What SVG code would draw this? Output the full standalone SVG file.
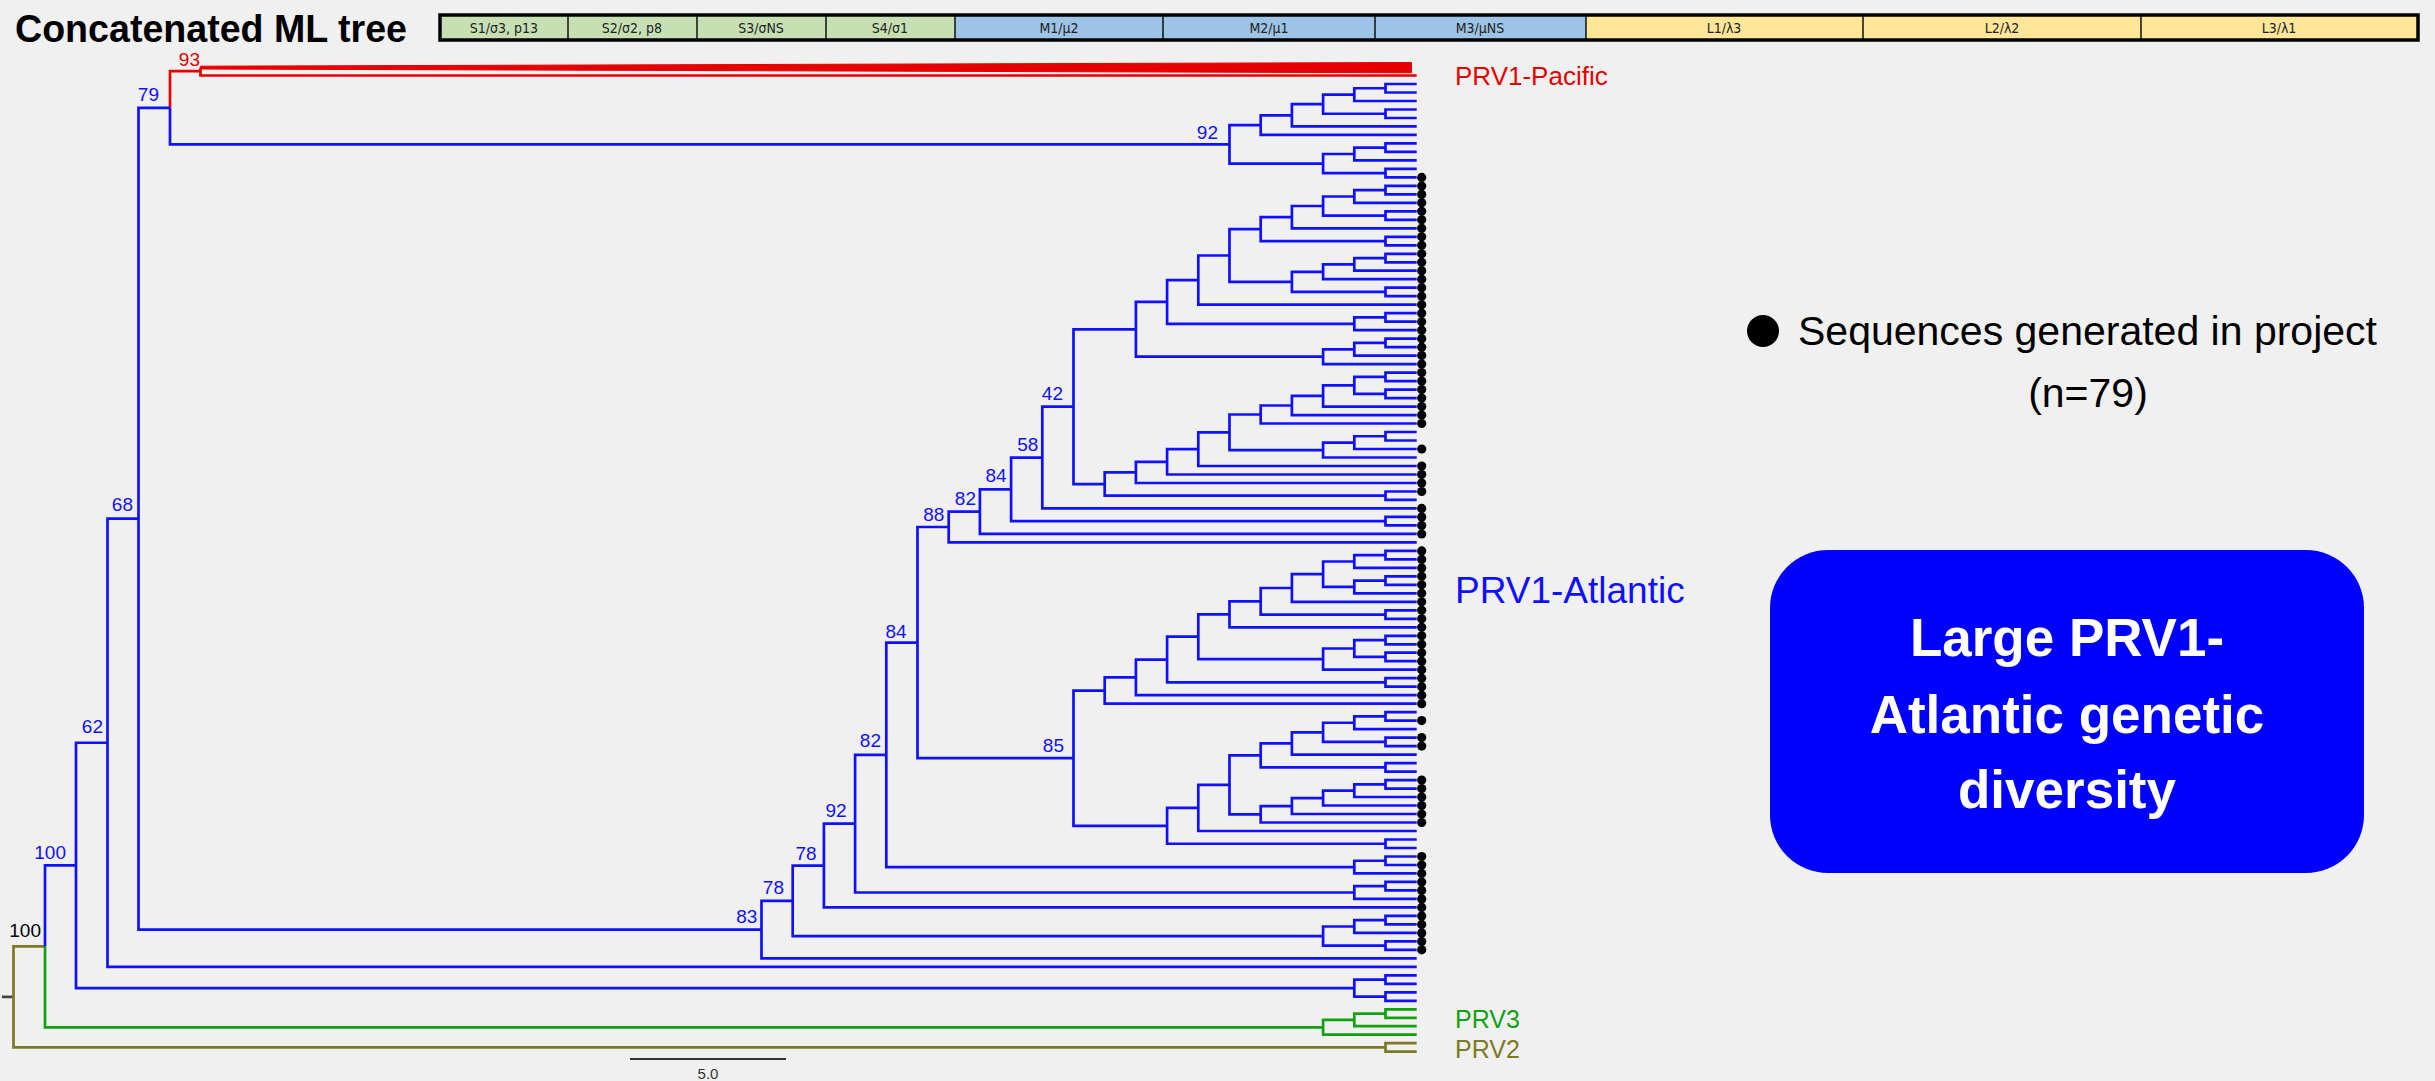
<svg xmlns="http://www.w3.org/2000/svg" width="2435" height="1081" viewBox="0 0 2435 1081">
<style>
.b{fill:none;stroke:#1010ff;stroke-width:2.7}
.r{fill:none;stroke:#e60000;stroke-width:2.7}
.g{fill:none;stroke:#12a012;stroke-width:2.7}
.o{fill:none;stroke:#7d7a22;stroke-width:2.7}
.sup{font-family:"Liberation Sans",Arial,sans-serif;font-size:19px;fill:#1010ff;text-anchor:end}
.seg{font-family:"DejaVu Sans Condensed","Liberation Sans",sans-serif;font-size:14px;fill:#222;text-anchor:middle}
.dot{fill:#000}
</style>
<rect x="0" y="0" width="2435" height="1081" fill="#f0f0f0"/>

<g id="title">
<text x="15" y="42" font-family="Liberation Sans,Arial,sans-serif" font-weight="bold" font-size="38" fill="#000" textLength="392" lengthAdjust="spacingAndGlyphs">Concatenated ML tree</text>
</g>

<g id="segment-bar">
<rect x="440" y="15" width="515" height="25" fill="#c6e0b4"/>
<rect x="955" y="15" width="631" height="25" fill="#9dc3e6"/>
<rect x="1586" y="15" width="832" height="25" fill="#ffe699"/>
<g stroke="#111" stroke-width="1.5">
<line x1="568" y1="15" x2="568" y2="40"/><line x1="697" y1="15" x2="697" y2="40"/><line x1="826" y1="15" x2="826" y2="40"/>
<line x1="955" y1="15" x2="955" y2="40"/><line x1="1163" y1="15" x2="1163" y2="40"/><line x1="1375" y1="15" x2="1375" y2="40"/>
<line x1="1586" y1="15" x2="1586" y2="40"/><line x1="1863" y1="15" x2="1863" y2="40"/><line x1="2141" y1="15" x2="2141" y2="40"/>
</g>
<rect x="440" y="15" width="1978" height="25" fill="none" stroke="#000" stroke-width="3.5"/>
<text class="seg" x="504" y="32.5">S1/σ3, p13</text>
<text class="seg" x="632" y="32.5">S2/σ2, p8</text>
<text class="seg" x="761" y="32.5">S3/σNS</text>
<text class="seg" x="890" y="32.5">S4/σ1</text>
<text class="seg" x="1059" y="32.5">M1/μ2</text>
<text class="seg" x="1269" y="32.5">M2/μ1</text>
<text class="seg" x="1480" y="32.5">M3/μNS</text>
<text class="seg" x="1724" y="32.5">L1/λ3</text>
<text class="seg" x="2002" y="32.5">L2/λ2</text>
<text class="seg" x="2279" y="32.5">L3/λ1</text>
</g>

<g id="connectors">
<path d="M2,996.9H13.5" fill="none" stroke="#444" stroke-width="2.7"/>
<g class="o">
<path d="M45,946.35H13.5V1047.45H1385.5"/>
<path d="M1416.7,1043.2H1385.5V1051.7H1416.7"/>
</g>
<g class="g">
<path d="M45,946.35V1027.3H1323.1"/>
<path d="M1416.7,1009.3H1385.5V1017.8H1416.7"/>
<path d="M1385.5,1013.55H1354.3V1026.2H1416.7"/>
<path d="M1354.3,1019.9H1323.1V1034.7H1416.7"/>
</g>
<g class="r">
<path d="M200.5,71.2H170V107.8"/>
<path d="M200.5,67.5V75.5H1416.7"/>
</g>
<polygon points="200.5,66.2 1411.5,62.5 1411.5,72.8 200.5,69" fill="#e60000" stroke="#e60000" stroke-width="1"/>
<g class="b">
<path d="M76,865.4H45V946.35"/>
<path d="M170,107.8V144.35H1229.5"/>
<path d="M1416.7,84H1385.5V92.5H1416.7"/>
<path d="M1385.5,88.25H1354.3V101H1416.7"/>
<path d="M1416.7,109.5H1385.5V118H1416.7"/>
<path d="M1354.3,94.6H1323.1V113.75H1385.5"/>
<path d="M1323.1,104.2H1291.9V126.4H1416.7"/>
<path d="M1291.9,115.3H1260.7V134.9H1416.7"/>
<path d="M1416.7,143.4H1385.5V151.9H1416.7"/>
<path d="M1385.5,147.65H1354.3V160.4H1416.7"/>
<path d="M1416.7,168.9H1385.5V177.4H1416.7"/>
<path d="M1354.3,154H1323.1V173.15H1385.5"/>
<path d="M1260.7,125.1H1229.5V163.6H1323.1"/>
<path d="M1416.7,185.9H1385.5V194.4H1416.7"/>
<path d="M1385.5,190.15H1354.3V202.8H1416.7"/>
<path d="M1416.7,211.3H1385.5V219.8H1416.7"/>
<path d="M1354.3,196.5H1323.1V215.55H1385.5"/>
<path d="M1323.1,206H1291.9V228.3H1416.7"/>
<path d="M1416.7,236.8H1385.5V245.3H1416.7"/>
<path d="M1291.9,217.15H1260.7V241.05H1385.5"/>
<path d="M1416.7,253.8H1385.5V262.3H1416.7"/>
<path d="M1385.5,258.05H1354.3V270.7H1416.7"/>
<path d="M1354.3,264.4H1323.1V279.2H1416.7"/>
<path d="M1416.7,287.7H1385.5V296.2H1416.7"/>
<path d="M1323.1,271.8H1291.9V291.95H1385.5"/>
<path d="M1260.7,229.1H1229.5V281.9H1291.9"/>
<path d="M1229.5,255.5H1198.3V304.7H1416.7"/>
<path d="M1416.7,313.2H1385.5V321.7H1416.7"/>
<path d="M1385.5,317.45H1354.3V330.2H1416.7"/>
<path d="M1198.3,280.1H1167.1V323.8H1354.3"/>
<path d="M1416.7,338.7H1385.5V347.2H1416.7"/>
<path d="M1385.5,342.95H1354.3V355.6H1416.7"/>
<path d="M1354.3,349.3H1323.1V364.1H1416.7"/>
<path d="M1167.1,301.95H1135.9V356.7H1323.1"/>
<path d="M1416.7,372.6H1385.5V381.1H1416.7"/>
<path d="M1416.7,389.6H1385.5V398.1H1416.7"/>
<path d="M1385.5,376.85H1354.3V393.85H1385.5"/>
<path d="M1354.3,385.35H1323.1V406.6H1416.7"/>
<path d="M1323.1,395.95H1291.9V415.1H1416.7"/>
<path d="M1291.9,405.5H1260.7V423.5H1416.7"/>
<path d="M1416.7,432H1385.5V440.5H1416.7"/>
<path d="M1385.5,436.25H1354.3V449H1416.7"/>
<path d="M1354.3,442.6H1323.1V457.5H1416.7"/>
<path d="M1260.7,414.5H1229.5V450.05H1323.1"/>
<path d="M1229.5,432.3H1198.3V466H1416.7"/>
<path d="M1198.3,449.15H1167.1V474.5H1416.7"/>
<path d="M1167.1,461.8H1135.9V483H1416.7"/>
<path d="M1416.7,491.5H1385.5V499.9H1416.7"/>
<path d="M1135.9,472.4H1104.7V495.7H1385.5"/>
<path d="M1135.9,329.3H1073.5V484.05H1104.7"/>
<path d="M1073.5,406.7H1042.3V508.4H1416.7"/>
<path d="M1416.7,516.9H1385.5V525.4H1416.7"/>
<path d="M1042.3,457.55H1011.1V521.15H1385.5"/>
<path d="M1011.1,489.35H979.9V533.9H1416.7"/>
<path d="M979.9,511.6H948.7V542.4H1416.7"/>
<path d="M1416.7,550.9H1385.5V559.4H1416.7"/>
<path d="M1385.5,555.15H1354.3V567.9H1416.7"/>
<path d="M1416.7,576.3H1385.5V584.8H1416.7"/>
<path d="M1385.5,580.55H1354.3V593.3H1416.7"/>
<path d="M1354.3,561.5H1323.1V586.9H1354.3"/>
<path d="M1323.1,574.2H1291.9V601.8H1416.7"/>
<path d="M1416.7,610.3H1385.5V618.8H1416.7"/>
<path d="M1291.9,588H1260.7V614.55H1385.5"/>
<path d="M1260.7,601.3H1229.5V627.3H1416.7"/>
<path d="M1416.7,635.8H1385.5V644.3H1416.7"/>
<path d="M1416.7,652.7H1385.5V661.2H1416.7"/>
<path d="M1385.5,640.05H1354.3V656.95H1385.5"/>
<path d="M1354.3,648.5H1323.1V669.7H1416.7"/>
<path d="M1229.5,614.3H1198.3V659.1H1323.1"/>
<path d="M1416.7,678.2H1385.5V686.7H1416.7"/>
<path d="M1198.3,636.7H1167.1V682.45H1385.5"/>
<path d="M1167.1,659.6H1135.9V695.2H1416.7"/>
<path d="M1135.9,677.4H1104.7V703.7H1416.7"/>
<path d="M1416.7,712.2H1385.5V720.6H1416.7"/>
<path d="M1385.5,716.4H1354.3V729.1H1416.7"/>
<path d="M1416.7,737.6H1385.5V746.1H1416.7"/>
<path d="M1354.3,722.75H1323.1V741.85H1385.5"/>
<path d="M1323.1,732.3H1291.9V754.6H1416.7"/>
<path d="M1416.7,763.1H1385.5V771.6H1416.7"/>
<path d="M1291.9,743.45H1260.7V767.35H1385.5"/>
<path d="M1416.7,780.1H1385.5V788.6H1416.7"/>
<path d="M1385.5,784.35H1354.3V797H1416.7"/>
<path d="M1354.3,790.7H1323.1V805.5H1416.7"/>
<path d="M1323.1,798.1H1291.9V814H1416.7"/>
<path d="M1291.9,806.05H1260.7V822.5H1416.7"/>
<path d="M1260.7,755.4H1229.5V814.3H1260.7"/>
<path d="M1229.5,784.85H1198.3V831H1416.7"/>
<path d="M1416.7,839.5H1385.5V848H1416.7"/>
<path d="M1198.3,807.9H1167.1V843.75H1385.5"/>
<path d="M1104.7,690.55H1073.5V825.8H1167.1"/>
<path d="M948.7,527H917.5V758.2H1073.5"/>
<path d="M1416.7,856.5H1385.5V865H1416.7"/>
<path d="M1385.5,860.75H1354.3V873.4H1416.7"/>
<path d="M917.5,642.6H886.3V867.1H1354.3"/>
<path d="M1416.7,881.9H1385.5V890.4H1416.7"/>
<path d="M1385.5,886.15H1354.3V898.9H1416.7"/>
<path d="M886.3,754.85H855.1V892.5H1354.3"/>
<path d="M855.1,823.7H823.9V907.4H1416.7"/>
<path d="M1416.7,915.9H1385.5V924.4H1416.7"/>
<path d="M1385.5,920.15H1354.3V932.9H1416.7"/>
<path d="M1416.7,941.4H1385.5V949.8H1416.7"/>
<path d="M1354.3,926.5H1323.1V945.6H1385.5"/>
<path d="M823.9,865.55H792.7V936.05H1323.1"/>
<path d="M792.7,900.8H761.5V958.3H1416.7"/>
<path d="M170,107.8H138.5V929.55H761.5"/>
<path d="M138.5,518.7H107.5V966.8H1416.7"/>
<path d="M1416.7,975.3H1385.5V983.8H1416.7"/>
<path d="M1416.7,992.3H1385.5V1000.8H1416.7"/>
<path d="M1385.5,979.55H1354.3V996.55H1385.5"/>
<path d="M107.5,742.75H76V988.05H1354.3"/>
</g>
</g>

<g id="project-dots" class="dot">
<circle cx="1421.7" cy="177.4" r="4.6"/><circle cx="1421.7" cy="185.9" r="4.6"/><circle cx="1421.7" cy="194.4" r="4.6"/><circle cx="1421.7" cy="202.8" r="4.6"/><circle cx="1421.7" cy="211.3" r="4.6"/><circle cx="1421.7" cy="219.8" r="4.6"/><circle cx="1421.7" cy="228.3" r="4.6"/><circle cx="1421.7" cy="236.8" r="4.6"/><circle cx="1421.7" cy="245.3" r="4.6"/><circle cx="1421.7" cy="253.8" r="4.6"/>
<circle cx="1421.7" cy="262.3" r="4.6"/><circle cx="1421.7" cy="270.7" r="4.6"/><circle cx="1421.7" cy="279.2" r="4.6"/><circle cx="1421.7" cy="287.7" r="4.6"/><circle cx="1421.7" cy="296.2" r="4.6"/><circle cx="1421.7" cy="304.7" r="4.6"/><circle cx="1421.7" cy="313.2" r="4.6"/><circle cx="1421.7" cy="321.7" r="4.6"/><circle cx="1421.7" cy="330.2" r="4.6"/><circle cx="1421.7" cy="338.7" r="4.6"/>
<circle cx="1421.7" cy="347.2" r="4.6"/><circle cx="1421.7" cy="355.6" r="4.6"/><circle cx="1421.7" cy="364.1" r="4.6"/><circle cx="1421.7" cy="372.6" r="4.6"/><circle cx="1421.7" cy="381.1" r="4.6"/><circle cx="1421.7" cy="389.6" r="4.6"/><circle cx="1421.7" cy="398.1" r="4.6"/><circle cx="1421.7" cy="406.6" r="4.6"/><circle cx="1421.7" cy="415.1" r="4.6"/><circle cx="1421.7" cy="423.5" r="4.6"/>
<circle cx="1421.7" cy="449" r="4.6"/>
<circle cx="1421.7" cy="466" r="4.6"/><circle cx="1421.7" cy="474.5" r="4.6"/><circle cx="1421.7" cy="483" r="4.6"/><circle cx="1421.7" cy="491.5" r="4.6"/>
<circle cx="1421.7" cy="508.4" r="4.6"/><circle cx="1421.7" cy="516.9" r="4.6"/><circle cx="1421.7" cy="525.4" r="4.6"/><circle cx="1421.7" cy="533.9" r="4.6"/>
<circle cx="1421.7" cy="550.9" r="4.6"/><circle cx="1421.7" cy="559.4" r="4.6"/><circle cx="1421.7" cy="567.9" r="4.6"/><circle cx="1421.7" cy="576.3" r="4.6"/><circle cx="1421.7" cy="584.8" r="4.6"/><circle cx="1421.7" cy="593.3" r="4.6"/><circle cx="1421.7" cy="601.8" r="4.6"/><circle cx="1421.7" cy="610.3" r="4.6"/><circle cx="1421.7" cy="618.8" r="4.6"/><circle cx="1421.7" cy="627.3" r="4.6"/>
<circle cx="1421.7" cy="635.8" r="4.6"/><circle cx="1421.7" cy="644.3" r="4.6"/><circle cx="1421.7" cy="652.7" r="4.6"/><circle cx="1421.7" cy="661.2" r="4.6"/><circle cx="1421.7" cy="669.7" r="4.6"/><circle cx="1421.7" cy="678.2" r="4.6"/><circle cx="1421.7" cy="686.7" r="4.6"/><circle cx="1421.7" cy="695.2" r="4.6"/><circle cx="1421.7" cy="703.7" r="4.6"/>
<circle cx="1421.7" cy="720.6" r="4.6"/>
<circle cx="1421.7" cy="737.6" r="4.6"/><circle cx="1421.7" cy="746.1" r="4.6"/>
<circle cx="1421.7" cy="780.1" r="4.6"/><circle cx="1421.7" cy="788.6" r="4.6"/><circle cx="1421.7" cy="797" r="4.6"/><circle cx="1421.7" cy="805.5" r="4.6"/><circle cx="1421.7" cy="814" r="4.6"/><circle cx="1421.7" cy="822.5" r="4.6"/>
<circle cx="1421.7" cy="856.5" r="4.6"/><circle cx="1421.7" cy="865" r="4.6"/><circle cx="1421.7" cy="873.4" r="4.6"/><circle cx="1421.7" cy="881.9" r="4.6"/><circle cx="1421.7" cy="890.4" r="4.6"/><circle cx="1421.7" cy="898.9" r="4.6"/><circle cx="1421.7" cy="907.4" r="4.6"/><circle cx="1421.7" cy="915.9" r="4.6"/><circle cx="1421.7" cy="924.4" r="4.6"/><circle cx="1421.7" cy="932.9" r="4.6"/><circle cx="1421.7" cy="941.4" r="4.6"/><circle cx="1421.7" cy="949.8" r="4.6"/>
</g>

<g id="support-values">
<text class="sup" x="200" y="66" style="fill:#e60000">93</text>
<text class="sup" x="159" y="101">79</text>
<text class="sup" x="1218" y="138.5">92</text>
<text class="sup" x="133" y="511">68</text>
<text class="sup" x="103" y="733">62</text>
<text class="sup" x="66" y="859">100</text>
<text class="sup" x="41" y="937" style="fill:#000">100</text>
<text class="sup" x="1063" y="399.7">42</text>
<text class="sup" x="1038.3" y="450.5">58</text>
<text class="sup" x="1006.7" y="482.3">84</text>
<text class="sup" x="976" y="505">82</text>
<text class="sup" x="944.3" y="521">88</text>
<text class="sup" x="906.7" y="638">84</text>
<text class="sup" x="1064" y="751.5">85</text>
<text class="sup" x="881" y="747">82</text>
<text class="sup" x="846.7" y="817">92</text>
<text class="sup" x="816.7" y="860">78</text>
<text class="sup" x="784" y="894">78</text>
<text class="sup" x="757.3" y="922.5">83</text>
</g>

<g id="clade-labels" font-family="Liberation Sans,Arial,sans-serif">
<text x="1455" y="85" font-size="26" fill="#e60000">PRV1-Pacific</text>
<text x="1455" y="603" font-size="37" fill="#1010ff">PRV1-Atlantic</text>
<text x="1455" y="1028" font-size="25" fill="#12a012">PRV3</text>
<text x="1455" y="1058" font-size="25" fill="#7d7a22">PRV2</text>
</g>

<g id="scale-bar">
<line x1="630" y1="1059" x2="786" y2="1059" stroke="#333" stroke-width="2"/>
<text x="708" y="1079" font-family="Liberation Sans,Arial,sans-serif" font-size="15" fill="#333" text-anchor="middle">5.0</text>
</g>

<g id="legend" font-family="Liberation Sans,Arial,sans-serif" fill="#000">
<circle cx="1763" cy="331" r="16"/>
<text x="1798" y="345" font-size="41">Sequences generated in project</text>
<text x="2088" y="407" font-size="41" text-anchor="middle">(n=79)</text>
</g>

<g id="diversity-box">
<rect x="1770" y="550" width="594" height="323" rx="58" ry="58" fill="#0000ff"/>
<g font-family="Liberation Sans,Arial,sans-serif" font-weight="bold" font-size="53" fill="#fff" text-anchor="middle">
<text x="2067" y="656">Large PRV1-</text>
<text x="2067" y="733">Atlantic genetic</text>
<text x="2067" y="808">diversity</text>
</g>
</g>
</svg>
